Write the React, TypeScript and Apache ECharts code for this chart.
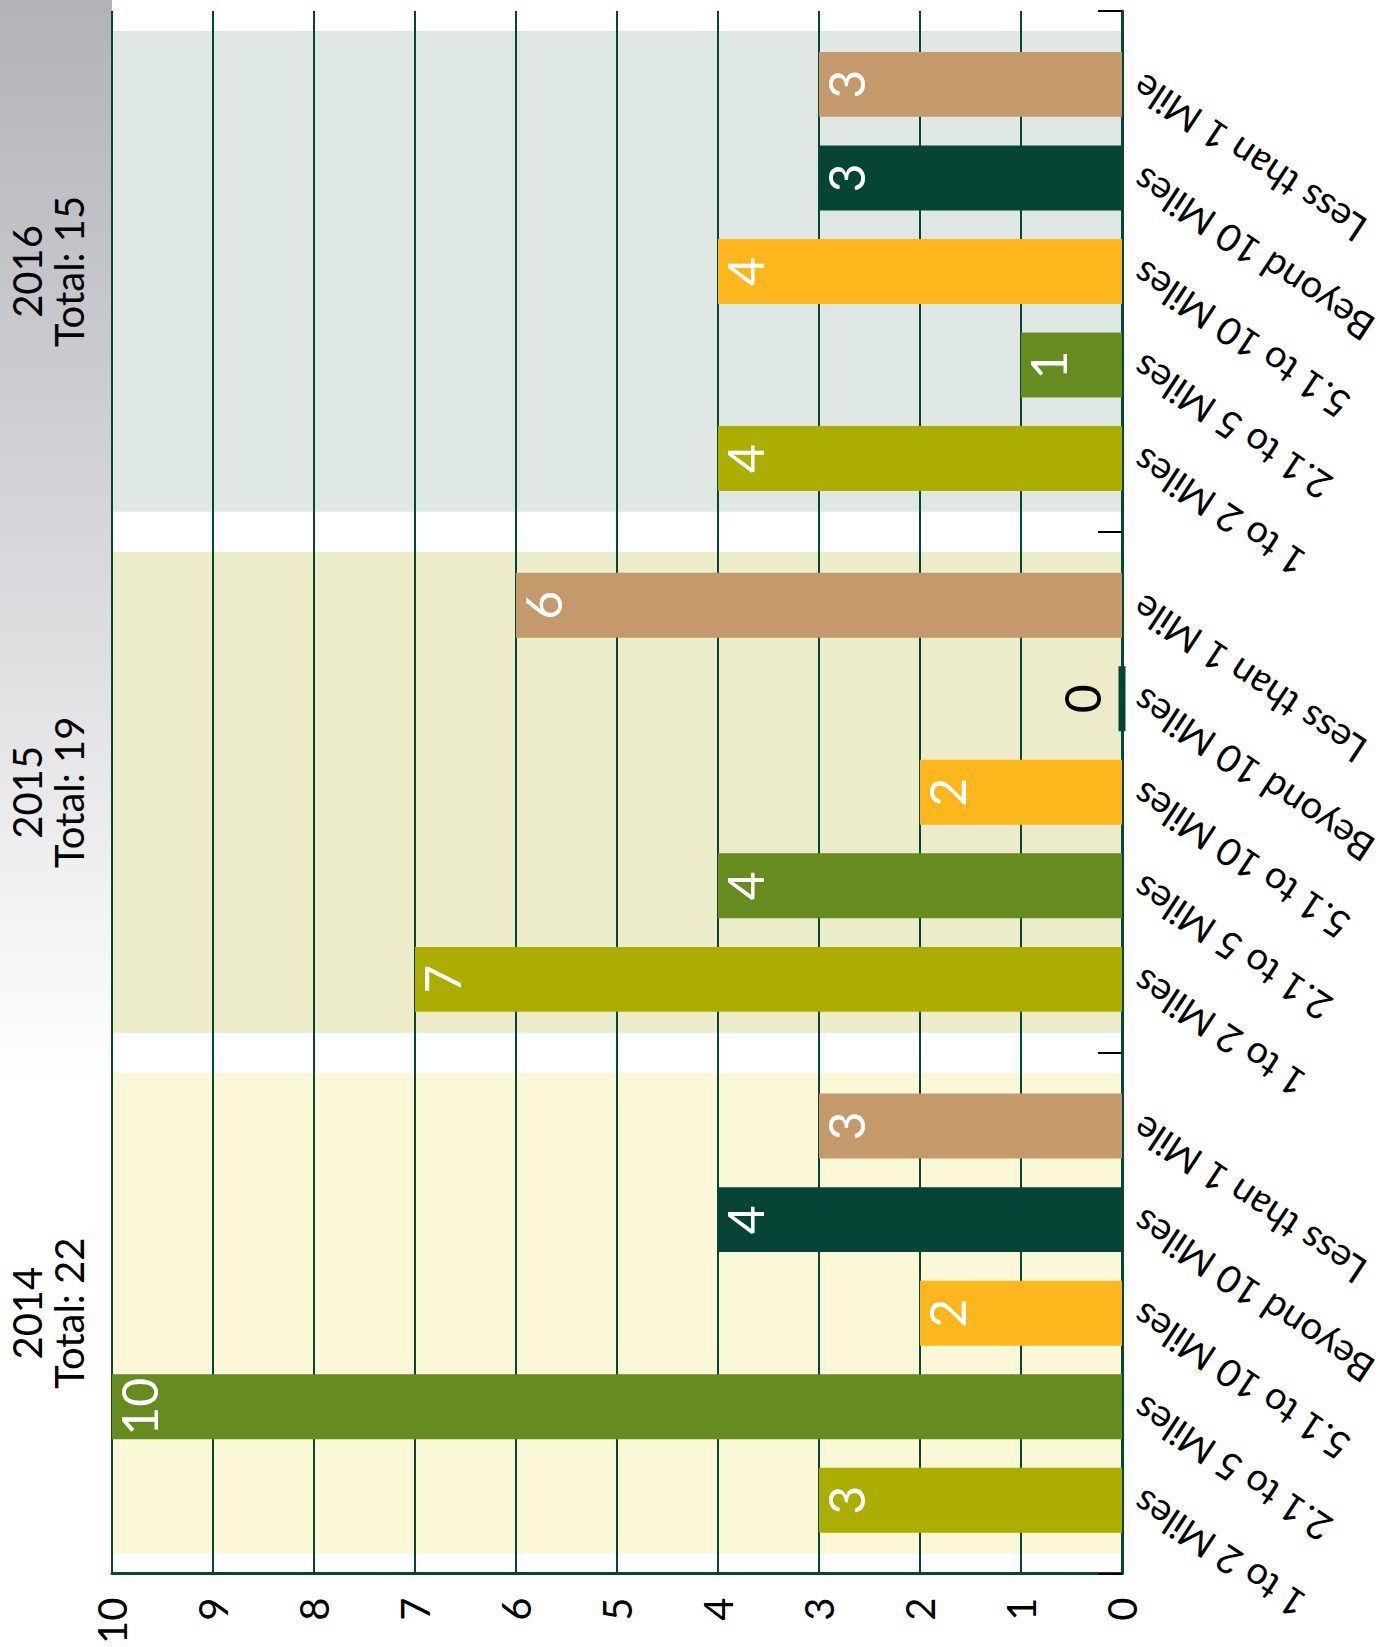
import React, { useEffect, useRef } from 'react';
import * as echarts from 'echarts';

// ---- data ----
const years = ['2014', '2015', '2016'];
// distance groups, listed bottom-to-top as they appear inside each year group
const distanceNames = ['1 to 2 Miles', '2.1 to 5 Miles', '5.1 to 10 Miles', 'Beyond 10 Miles', 'Less than 1 Mile'];
const oneTo2Miles = [3, 7, 4];
const twoTo5Miles = [10, 4, 1];
const fiveTo10Miles = [2, 2, 4];
const beyond10Miles = [4, 0, 3];
const lessThan1Mile = [3, 6, 3];
const distanceColors = ['#ABAD00', '#668B1E', '#FDB71C', '#064435', '#C4996B'];
const bandColors = ['#FCF8D7', '#ECEBCA', '#DFE7E5'];
const valueMin = 0;
const valueMax = 10;
const valueInterval = 1;

const FONT = 'Lato, "Noto Sans", "DejaVu Sans", sans-serif';
const AXIS_GREEN = '#064634';

export default function App() {
  const ref = useRef<HTMLDivElement>(null);

  useEffect(() => {
    if (!ref.current) return;
    const chart = echarts.init(ref.current, undefined, { renderer: 'svg' });

    const seriesValues = [oneTo2Miles, twoTo5Miles, fiveTo10Miles, beyond10Miles, lessThan1Mile];
    const totals = years.map((_, i) => seriesValues.reduce((s, arr) => s + arr[i], 0));

    // ECharts puts the first bar column at the top of a horizontal group
    const topFirst = [4, 3, 2, 1, 0];
    const common = {
      type: 'bar',
      xAxisIndex: 0,
      yAxisIndex: 0,
      barGap: '44%',
      barCategoryGap: '15.7%',
    };

    const series: any[] = [];
    topFirst.forEach((k) => {
      // name labels sitting at the base of each bar
      series.push({
        ...common,
        name: distanceNames[k] + ' (label)',
        stack: 's' + k,
        silent: true,
        data: years.map(() => 0),
        itemStyle: { color: 'rgba(0,0,0,0)' },
        label: {
          show: true,
          position: 'right',
          distance: 14,
          rotate: 146.5,
          align: 'right',
          verticalAlign: 'middle',
          formatter: distanceNames[k],
          fontSize: 38,
          lineHeight: 40,
          fontFamily: FONT,
          color: '#000',
        },
      });
    });
    topFirst.forEach((k) => {
      const color = distanceColors[k];
      series.push({
        ...common,
        name: distanceNames[k],
        stack: 's' + k,
        data: seriesValues[k].map((v) =>
          v === 0
            ? {
                value: v,
                itemStyle: { color, borderColor: color, borderWidth: 7 },
                label: { position: 'left', color: '#000', verticalAlign: 'bottom', align: 'center', distance: 12 },
              }
            : v
        ),
        itemStyle: { color },
        label: {
          show: true,
          position: 'insideLeft',
          distance: 2,
          rotate: 90,
          align: 'center',
          verticalAlign: 'top',
          color: '#fff',
          fontSize: 50,
          fontFamily: FONT,
        },
      });
    });

    // background bands per year
    series.push({
      type: 'bar',
      xAxisIndex: 1,
      yAxisIndex: 1,
      silent: true,
      z: -1,
      barWidth: '92.3%',
      data: years.map((_, i) => ({ value: valueMax, itemStyle: { color: bandColors[i] } })),
    });

    const option: any = {
      animation: false,
      backgroundColor: '#ffffff',
      grid: { left: 112, right: 269, top: 11, bottom: 70, containLabel: false },
      graphic: [
        {
          type: 'rect',
          left: 0,
          top: 0,
          z: -10,
          silent: true,
          shape: { width: 112, height: 1647 },
          style: {
            fill: new echarts.graphic.LinearGradient(0, 0, 0, 1, [
              { offset: 0, color: '#B2B3B8' },
              { offset: 0.2, color: '#C8C9CD' },
              { offset: 0.4, color: '#DFDFE2' },
              { offset: 0.55, color: '#F2F2F3' },
              { offset: 0.66, color: '#FFFFFF' },
              { offset: 1, color: '#FFFFFF' },
            ]),
          },
        },
      ],
      xAxis: [
        {
          type: 'value',
          min: valueMin,
          max: valueMax,
          interval: valueInterval,
          inverse: true,
          position: 'bottom',
          axisLine: { show: true, lineStyle: { color: AXIS_GREEN, width: 3 } },
          axisTick: { show: false },
          splitLine: { show: true, lineStyle: { color: AXIS_GREEN, width: 2 } },
          axisLabel: {
            rotate: 90,
            margin: 24,
            fontSize: 40,
            fontFamily: FONT,
            color: '#000',
          },
        },
        {
          type: 'value',
          min: valueMin,
          max: valueMax,
          inverse: true,
          show: false,
        },
      ],
      yAxis: [
        {
          type: 'category',
          data: years,
          position: 'right',
          axisLine: { show: true, lineStyle: { color: AXIS_GREEN, width: 3 } },
          axisTick: { show: true, inside: true, length: 24, lineStyle: { color: '#000', width: 2 } },
          axisLabel: { show: false },
          splitLine: { show: false },
        },
        {
          type: 'category',
          data: years,
          position: 'left',
          axisLine: { show: false },
          axisTick: { show: false },
          splitLine: { show: false },
          axisLabel: {
            rotate: 90,
            margin: 22,
            fontSize: 40,
            lineHeight: 42,
            fontFamily: FONT,
            color: '#000',
            formatter: (val: string, idx: number) => `${val}\nTotal: ${totals[idx]}`,
          },
        },
      ],
      series,
    };

    chart.setOption(option);
    return () => chart.dispose();
  }, []);

  return (
    <div
      ref={ref}
      style={{ position: 'absolute', left: 0, top: 0, width: 1391, height: 1647, background: '#fff' }}
    />
  );
}
